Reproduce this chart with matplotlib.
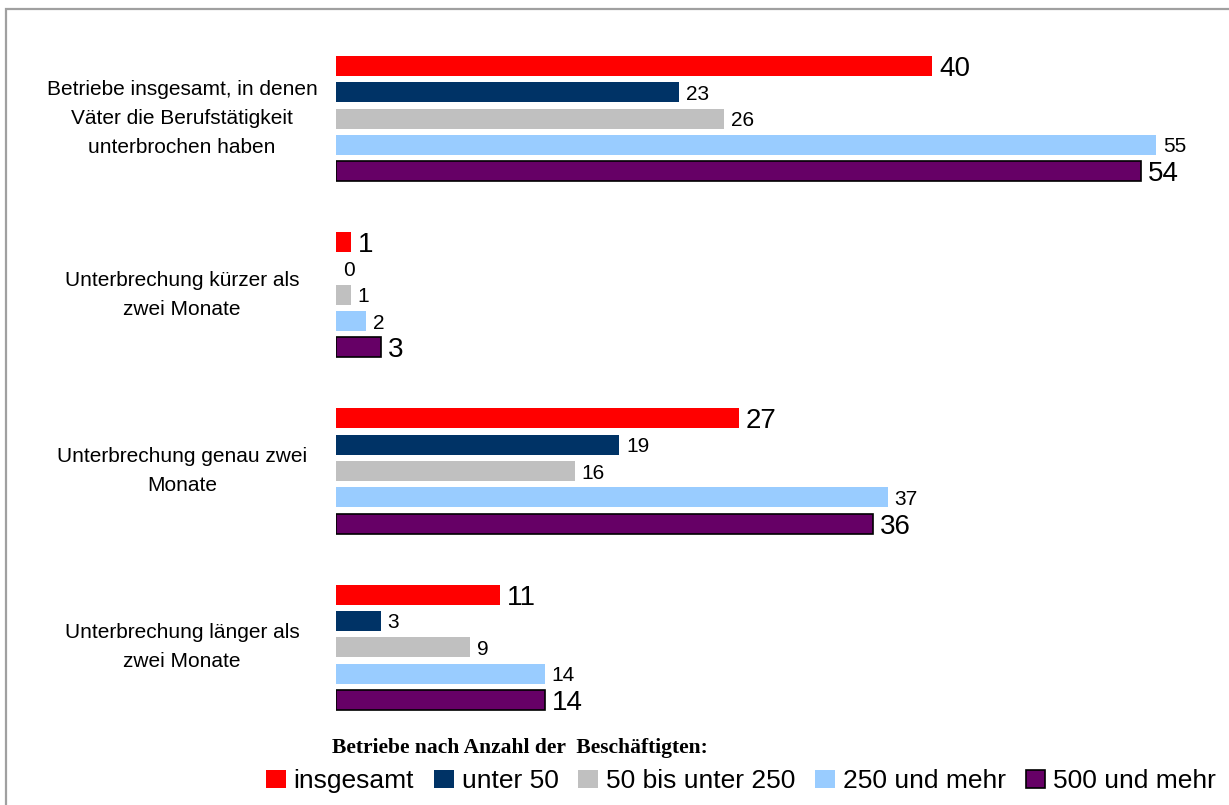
import numpy as np
import matplotlib.pyplot as plt
from matplotlib.patches import Rectangle

categories = ['Betriebe insgesamt, in denen\nVäter die Berufstätigkeit\nunterbrochen haben',
              'Unterbrechung kürzer als\nzwei Monate',
              'Unterbrechung genau zwei\nMonate',
              'Unterbrechung länger als\nzwei Monate']
series_names = ['insgesamt', 'unter 50', '50 bis unter 250', '250 und mehr', '500 und mehr']
insgesamt = [40, 1, 27, 11]
unter_50 = [23, 0, 19, 3]
bis_250 = [26, 1, 16, 9]
ab_250 = [55, 2, 37, 14]
ab_500 = [54, 3, 36, 14]
series = [insgesamt, unter_50, bis_250, ab_250, ab_500]

colors = ['#FF0000', '#003366', '#C0C0C0', '#99CCFF', '#660066']
edges = ['none', 'none', 'none', 'none', 'black']
label_sizes = [20, 15, 15, 15, 20]

plt.rcParams['font.family'] = ['Liberation Sans', 'DejaVu Sans']

fig = plt.figure(figsize=(12.29, 8.05), dpi=100)
W, H = 1229, 805

# thin grey frame around the chart area (right and bottom run off the canvas)
fig.patches.append(Rectangle((6 / W, -0.1), 1.2, 1.1 - 9 / H,
                             transform=fig.transFigure, fill=False,
                             edgecolor='#A0A0A0', linewidth=1.6))

# axes: bars start at x=336 px, one unit = ~14.9 px
ax = fig.add_axes([336 / W, 0, 59 * 14.91 / W, 1])
ax.set_xlim(0, 59)
slot = 26.3
ax.set_ylim((H - 66) / slot, -66 / slot)
ax.axis('off')

group_step = 6.7
base = np.arange(len(categories)) * group_step
handles = []
for i, vals in enumerate(series):
    y = base + i
    bars = ax.barh(y, vals, height=0.76, color=colors[i], edgecolor=edges[i],
                   linewidth=1.2 if edges[i] != 'none' else 0,
                   label=series_names[i])
    texts = ax.bar_label(bars, labels=[str(v) for v in vals], padding=5,
                         fontsize=label_sizes[i])
    for t in texts:
        t.set_va('center_baseline')
    handles.append(bars)

for g, cat in enumerate(categories):
    ax.text(-154 / 14.91, base[g] + 2, cat, ha='center', va='center',
            fontsize=15, linespacing=1.67, clip_on=False)

fig.text(520 / W, 1 - 748 / H, 'Betriebe nach Anzahl der  Beschäftigten:',
         ha='center', va='center', fontsize=15.5, fontweight='bold',
         family=['Liberation Serif', 'DejaVu Serif'])

fig.legend(handles=handles, labels=series_names, loc='center',
           bbox_to_anchor=(741 / W, 1 - 781 / H), ncol=5, frameon=False,
           fontsize=19, handlelength=0.75, handleheight=0.7,
           handletextpad=0.3, columnspacing=0.75, borderpad=0)

plt.savefig('out.png', dpi=100)
